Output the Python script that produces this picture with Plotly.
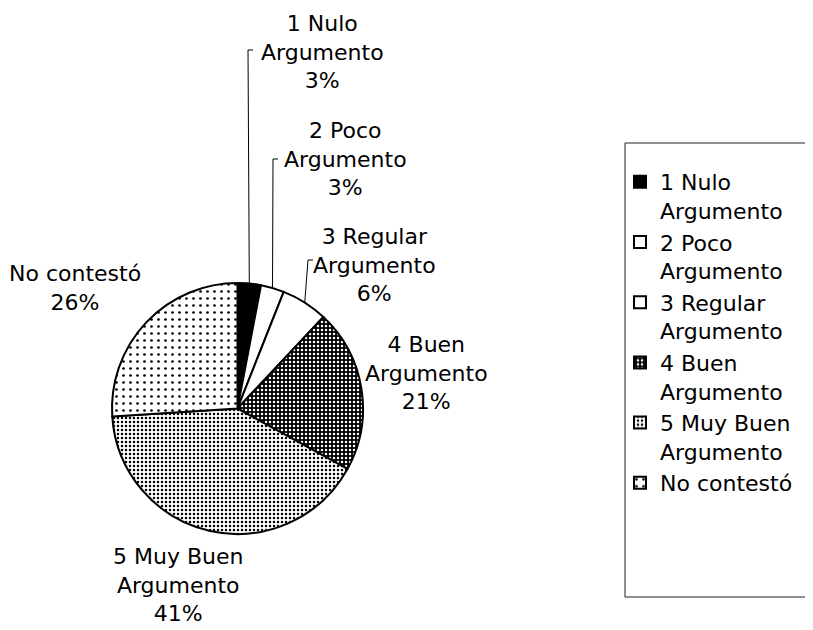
import math
import plotly.graph_objects as go

# ---- data ----
categories = ["1 Nulo<br>Argumento", "2 Poco<br>Argumento", "3 Regular<br>Argumento",
              "4 Buen<br>Argumento", "5 Muy Buen<br>Argumento", "No contestó"]
values = [3, 3, 6, 21, 41, 26]

# ---- styles ----
colors = ["black", "white", "white", "black", "white", "white"]
pat_shape = ["", "", "", ".", ".", "."]
pat_fg = ["black", "black", "black", "white", "black", "black"]
pat_bg = ["black", "white", "white", "black", "white", "white"]
pat_size = [6, 6, 6, 4, 4, 7]
pat_solid = [0.3, 0.3, 0.3, 0.3, 0.3, 0.12]

W, H = 813, 630
OFF = 8  # page body margin offset
FONT = "DejaVu Sans"
FS = 22
# pie geometry in pixels (screen)
CX, CY, R = 237.5, 408.5, 125.5
# label centres (screen pixels) for each slice
label_pos = [(322, 52), (345, 159), (374, 265), (426, 373), (178, 585), (75, 288)]
# leader line corners (screen pixels) for the three small slices
leader_corner = {0: (248, 50, 253), 1: (273, 159, 278), 2: (308, 260, 313)}

def px(x):
    return (x - OFF) / W

def py(y):
    return 1 - (y - OFF) / H

fig = go.Figure(go.Pie(
    labels=categories,
    values=values,
    sort=False,
    direction="clockwise",
    rotation=0,
    textinfo="none",
    hoverinfo="label+percent",
    marker=dict(
        colors=colors,
        line=dict(color="black", width=2),
        pattern=dict(shape=pat_shape, fgcolor=pat_fg, bgcolor=pat_bg, size=pat_size,
                     solidity=pat_solid, fillmode="replace"),
    ),
    domain=dict(x=[px(CX - R), px(CX + R)], y=[py(CY + R), py(CY - R)]),
))

total = sum(values)
annotations = []
shapes = []
cum = 0
for i, (cat, v) in enumerate(zip(categories, values)):
    pct = round(100 * v / total)
    lx, ly = label_pos[i]
    annotations.append(dict(
        x=px(lx), y=py(ly), xref="paper", yref="paper",
        text=f"{cat}<br>{pct}%", showarrow=False, align="center",
        xanchor="center", yanchor="middle",
        font=dict(family=FONT, size=FS, color="black"),
    ))
    mid = (cum + v / 2) / total * 2 * math.pi
    cum += v
    if i in leader_corner:
        ex = CX + R * math.sin(mid)
        ey = CY - R * math.cos(mid)
        cx, cy, tx = leader_corner[i]
        path = f"M {px(ex)},{py(ey)} L {px(cx)},{py(cy)} L {px(tx)},{py(cy)}"
        shapes.append(dict(type="path", xref="paper", yref="paper", path=path,
                           line=dict(color="black", width=1)))

# legend box
shapes.append(dict(type="rect", xref="paper", yref="paper",
                   x0=px(625), x1=1.05, y0=py(597), y1=py(143),
                   line=dict(color="#222", width=1)))

fig.update_layout(
    width=W, height=H,
    margin=dict(l=0, r=0, t=0, b=0),
    paper_bgcolor="white",
    plot_bgcolor="white",
    font=dict(family=FONT, size=FS, color="black"),
    showlegend=True,
    legend=dict(
        x=px(620), y=py(161), xanchor="left", yanchor="top",
        bgcolor="rgba(0,0,0,0)", borderwidth=0,
        font=dict(family=FONT, size=FS, color="black"),
        valign="top", traceorder="normal",
    ),
    annotations=annotations,
    shapes=shapes,
)

fig.write_html("out.html")
